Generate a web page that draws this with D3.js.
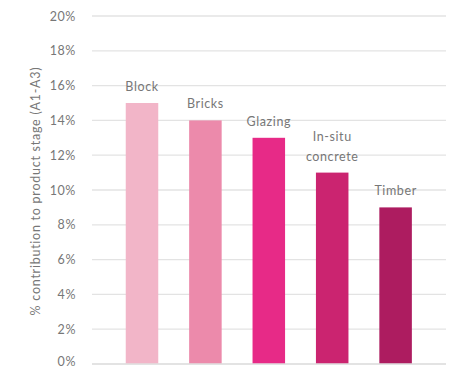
<!DOCTYPE html>
<html>
<head>
<meta charset="utf-8">
<script src="https://cdn.jsdelivr.net/npm/d3@7"></script>
<style>
  html, body { margin: 0; padding: 0; background: #fff; }
  svg text { font-family: Lato, "Open Sans", sans-serif; fill: #777; }
</style>
</head>
<body>
<svg id="chart" width="452" height="368"></svg>
<script>
// Share of product-stage (A1-A3) emissions by material
const materials = ["Block", "Bricks", "Glazing", "In-situ concrete", "Timber"];
const labelLines = [["Block"], ["Bricks"], ["Glazing"], ["In-situ", "concrete"], ["Timber"]];
const shares = [15, 14, 13, 11, 9];
const barColors = ["#f2b5c8", "#ec8aab", "#e72a87", "#cb2470", "#ad1c60"];
const yTicks = [0, 2, 4, 6, 8, 10, 12, 14, 16, 18, 20];

const svg = d3.select("#chart");

const y = d3.scaleLinear().domain([0, 20]).range([364, 16]);
const x = d3.scaleBand()
  .domain(materials)
  .range([110.3, 427.3])
  .paddingInner(0.487)
  .paddingOuter(0.2435);

const gridLeft = 92, gridRight = 446;

// Horizontal gridlines
svg.append("g")
  .selectAll("line")
  .data(yTicks)
  .join("line")
  .attr("x1", gridLeft)
  .attr("x2", gridRight)
  .attr("y1", d => y(d))
  .attr("y2", d => y(d))
  .attr("stroke", "#e3e3e3")
  .attr("stroke-width", 1.3);

// Y axis tick labels
const yAxis = d3.axisLeft(y)
  .tickValues(yTicks)
  .tickFormat(d => d + "%")
  .tickSize(0)
  .tickPadding(0);
const gy = svg.append("g")
  .attr("transform", "translate(76,0)")
  .call(yAxis);
gy.select(".domain").remove();
gy.selectAll("text")
  .attr("font-size", 12.5)
  .attr("letter-spacing", 0.6)
  .style("font-family", "Lato, 'Open Sans', sans-serif")
  .attr("fill", "#808080");
// keep the lowest label inside the frame
gy.selectAll(".tick").filter(d => d === 0).select("text").attr("dy", "0.1em");

// Axis title
svg.append("text")
  .attr("transform", "translate(40,191) rotate(-90)")
  .attr("text-anchor", "middle")
  .attr("font-size", 12.5)
  .attr("letter-spacing", 0.75)
  .attr("fill", "#808080")
  .text("% contribution to product stage (A1-A3)");

// Bars
svg.append("g")
  .selectAll("rect")
  .data(materials)
  .join("rect")
  .attr("x", d => x(d))
  .attr("width", x.bandwidth())
  .attr("y", (d, i) => y(shares[i]))
  .attr("height", (d, i) => y(0) - y(shares[i]))
  .attr("fill", (d, i) => barColors[i]);

// Baseline drawn over the bars
svg.append("line")
  .attr("x1", gridLeft).attr("x2", gridRight)
  .attr("y1", y(0)).attr("y2", y(0))
  .attr("stroke", "#e0e0e0")
  .attr("stroke-width", 1.5);

// Category labels above each bar
const labels = svg.append("g")
  .selectAll("text")
  .data(materials)
  .join("text")
  .attr("text-anchor", "middle")
  .attr("font-size", 12.5)
  .attr("letter-spacing", 0.6)
  .attr("fill", "#707070")
  .attr("x", d => x(d) + x.bandwidth() / 2)
  .attr("y", (d, i) => y(shares[i]) - 12 - (labelLines[i].length - 1) * 20);

labels.selectAll("tspan")
  .data((d, i) => labelLines[i])
  .join("tspan")
  .attr("x", function () { return this.parentNode.getAttribute("x"); })
  .attr("dy", (d, j) => j === 0 ? 0 : 20)
  .text(d => d);
</script>
</body>
</html>
